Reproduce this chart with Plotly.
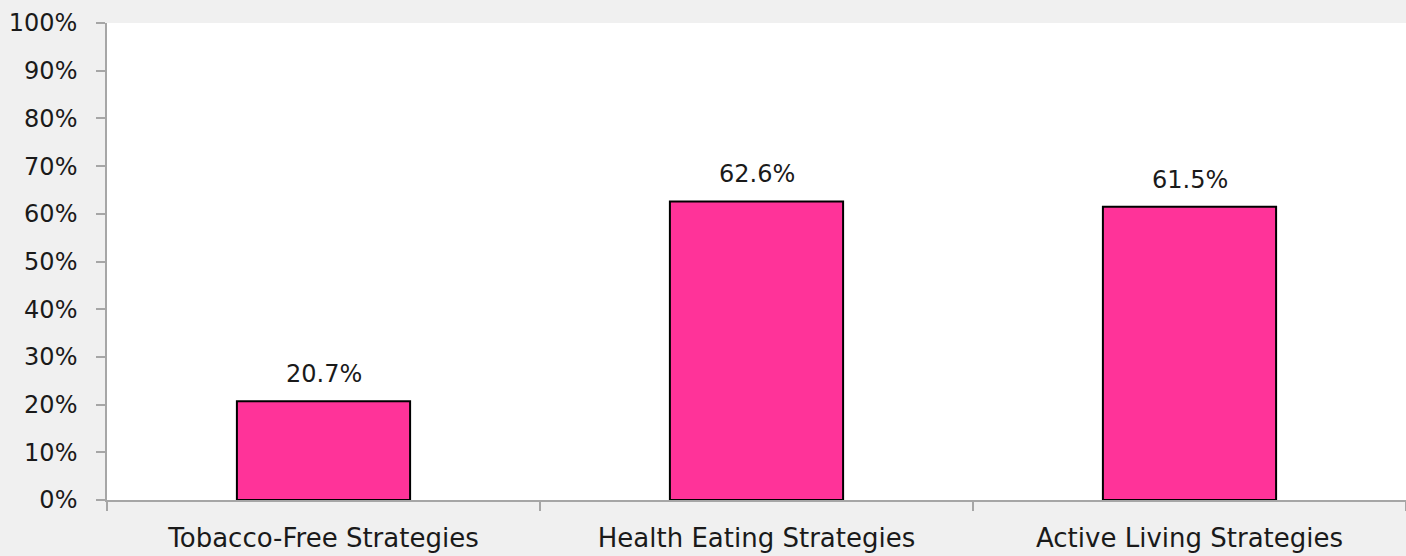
### Loading Package ###

import plotly.graph_objs as go


### Chart Data ###

categories = ["Tobacco-Free Strategies", "Health Eating Strategies", "Active Living Strategies"]
values = [20.7, 62.6, 61.5]
y_tick_values = list(range(0, 101, 10))
y_tick_labels = [f"{v}%" for v in y_tick_values]

# Shared styling
font_family = "DejaVu Sans"
text_color = "#1a1a1a"
axis_color = "#a6a6a6"
bar_color = "#ff3399"


### Creating Figure ###

figure = go.Figure()

figure.add_trace(
    go.Bar(
        x = categories,
        y = values,
        marker = dict(color = bar_color,
                      line = dict(color = "black", width = 2)),
        hoverinfo = "x+y"
    ))

# Data labels above the bars
for category, value in zip(categories, values):
    figure.add_annotation(
        x = category,
        y = value,
        text = f"{value:.1f}%",
        showarrow = False,
        yanchor = "bottom",
        yshift = 11,
        font = dict(family = font_family, size = 24, color = text_color)
    )

# Updating graph layout
figure.update_layout(
    width = 1406,
    height = 556,
    margin = dict(l = 107, r = 0, t = 23, b = 56),
    paper_bgcolor = "#f0f0f0",
    plot_bgcolor = "white",
    showlegend = False,
    bargap = 0.6,
    font = dict(family = font_family, size = 24, color = text_color),
    xaxis = dict(
        showline = True,
        linecolor = axis_color,
        linewidth = 1.5,
        ticks = "outside",
        tickson = "boundaries",
        ticklen = 9,
        tickcolor = axis_color,
        tickwidth = 1.5,
        showgrid = False,
        ticklabelstandoff = 14,
        tickfont = dict(size = 26)
    ),
    yaxis = dict(
        range = [0, 100],
        tickvals = y_tick_values,
        ticktext = y_tick_labels,
        showline = True,
        linecolor = axis_color,
        linewidth = 1.5,
        ticks = "outside",
        ticklen = 9,
        tickcolor = axis_color,
        tickwidth = 1.5,
        showgrid = False,
        zeroline = False,
        ticklabelstandoff = 14,
        tickfont = dict(size = 24)
    )
)

# Removing the default page margin so the figure fills the window
figure.write_html("out.html",
                  config = {"displayModeBar": False},
                  post_script = "document.body.style.margin = '0';")
